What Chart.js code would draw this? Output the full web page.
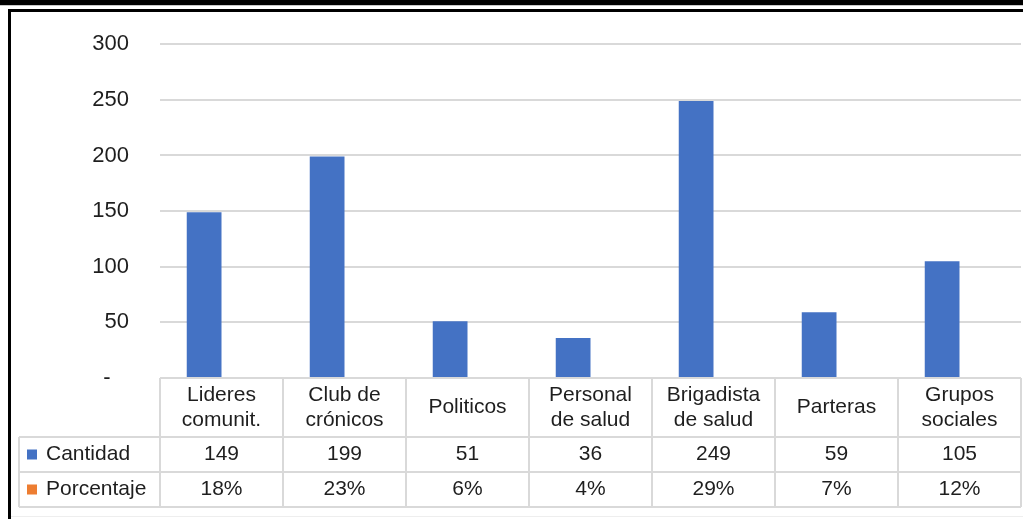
<!DOCTYPE html>
<html>
<head>
<meta charset="utf-8">
<script src="https://cdn.jsdelivr.net/npm/chart.js@4"></script>
<style>
  html, body { margin: 0; padding: 0; background: #fff; }
  #wrap { width: 1023px; height: 519px; }
</style>
</head>
<body>
<div id="wrap"><canvas id="myChart" width="1023" height="519"></canvas></div>
<script>
// datos
const categorias = [["Lideres", "comunit."], ["Club de", "crónicos"], ["Politicos"], ["Personal", "de salud"], ["Brigadista", "de salud"], ["Parteras"], ["Grupos", "sociales"]];
const cantidad = [149, 199, 51, 36, 249, 59, 105];
const porcentaje = [18, 23, 6, 4, 29, 7, 12];
const series = ["Cantidad", "Porcentaje"];
const colores = ["#4472C4", "#ED7D31"];
const yMax = 300;
const yPaso = 50;

const FONT = "Liberation Sans, Arial, sans-serif";
const TEXTO = "#1e1e1e";
const LINEA = "#d9d9d9";

// marco negro de la captura
const marco = {
  id: "marco",
  beforeDraw(chart) {
    const c = chart.ctx;
    c.save();
    c.fillStyle = "#fff";
    c.fillRect(0, 0, chart.width, chart.height);
    c.fillStyle = "#000";
    c.fillRect(0, 0, chart.width, 5);
    c.fillStyle = "#c8c8c8";
    c.fillRect(0, 5, chart.width, 1);
    c.fillStyle = "#000";
    c.fillRect(8, 9, chart.width - 8, 3);
    c.fillRect(8, 9, 3, chart.height - 9);
    c.fillStyle = "#eeeeee";
    c.fillRect(11, chart.height - 3, chart.width - 11, 1);
    c.restore();
  }
};

// tabla de datos bajo el eje
const tablaDatos = {
  id: "tablaDatos",
  afterDraw(chart) {
    const c = chart.ctx;
    const x = chart.scales.x;
    const area = chart.chartArea;
    const medio = (x.getPixelForValue(1) - x.getPixelForValue(0)) / 2;
    const yTop = area.bottom;
    const yFila1 = yTop + 59;
    const yFila2 = yFila1 + 35;
    const yFin = yFila2 + 35;
    const xLeyenda = 19;

    c.save();
    c.strokeStyle = LINEA;
    c.lineWidth = 2;
    c.beginPath();
    c.moveTo(area.left, yTop); c.lineTo(area.right, yTop);
    [yFila1, yFila2, yFin].forEach(y => { c.moveTo(xLeyenda, y); c.lineTo(area.right, y); });
    c.moveTo(xLeyenda, yFila1); c.lineTo(xLeyenda, yFin);
    c.moveTo(area.left, yTop); c.lineTo(area.left, yFin);
    categorias.forEach((cat, i) => {
      const xr = x.getPixelForValue(i) + medio;
      c.moveTo(xr, yTop); c.lineTo(xr, yFin);
    });
    c.stroke();

    c.fillStyle = TEXTO;
    c.font = "21px " + FONT;
    c.textAlign = "center";
    c.textBaseline = "middle";
    categorias.forEach((cat, i) => {
      const cx = x.getPixelForValue(i);
      const cy = (yTop + yFila1) / 2;
      if (cat.length === 1) {
        c.fillText(cat[0], cx, cy);
      } else {
        c.fillText(cat[0], cx, cy - 12);
        c.fillText(cat[1], cx, cy + 13);
      }
      c.fillText(String(cantidad[i]), cx, (yFila1 + yFila2) / 2);
      c.fillText(porcentaje[i] + "%", cx, (yFila2 + yFin) / 2);
    });

    c.textAlign = "left";
    [yFila1, yFila2].forEach((y, k) => {
      const cy = y + 17.5;
      c.fillStyle = colores[k];
      c.fillRect(27, cy - 5, 10, 10);
      c.fillStyle = TEXTO;
      c.fillText(series[k], 46, cy);
    });
    c.restore();
  }
};

const chartData = {
  labels: categorias.map(c => c.join(" ")),
  datasets: [{
    label: series[0],
    data: cantidad,
    backgroundColor: colores[0]
  }, {
    label: series[1],
    data: porcentaje.map(p => p / 100),
    backgroundColor: colores[1]
  }]
};

new Chart(document.getElementById("myChart").getContext("2d"), {
  type: "bar",
  data: chartData,
  options: {
    responsive: false,
    animation: false,
    devicePixelRatio: 1,
    layout: { padding: { left: 0, right: 2, top: 38, bottom: 141 } },
    datasets: { bar: { categoryPercentage: 0.565, barPercentage: 1 } },
    plugins: { legend: { display: false }, tooltip: { enabled: false } },
    scales: {
      x: { display: false },
      y: {
        min: 0,
        max: yMax,
        afterFit: s => { s.width = 160; },
        border: { display: false },
        grid: { color: LINEA, lineWidth: 2, drawTicks: false },
        ticks: {
          stepSize: yPaso,
          padding: 31,
          color: TEXTO,
          font: { family: FONT, size: 22 },
          callback: v => v === 0 ? "-   " : v
        }
      }
    }
  },
  plugins: [marco, tablaDatos]
});
</script>
</body>
</html>
